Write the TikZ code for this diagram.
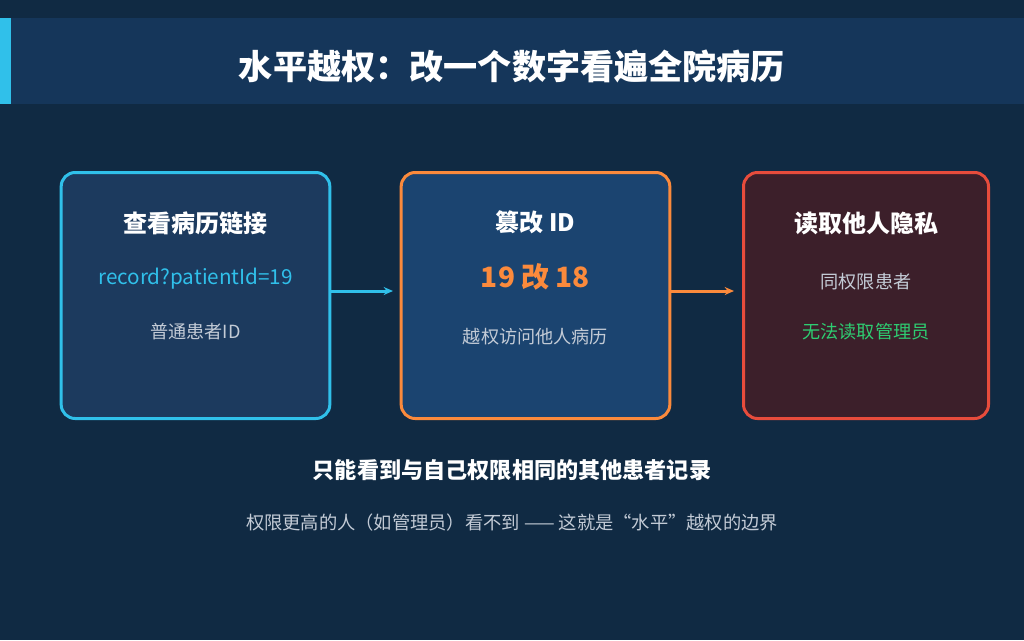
\documentclass[tikz,border=0pt]{standalone}
\usepackage{fontspec}
\setmainfont{Noto Sans CJK SC}
\usetikzlibrary{positioning, arrows.meta}
\definecolor{bgnavy}{HTML}{102A43}
\definecolor{barnavy}{HTML}{15365A}
\definecolor{cyanline}{HTML}{30C0EA}
\definecolor{orangeline}{HTML}{FB8A3C}
\definecolor{redline}{HTML}{E74C3C}
\definecolor{fillone}{HTML}{1C3A5E}
\definecolor{filltwo}{HTML}{1B4470}
\definecolor{fillthree}{HTML}{3C1F2A}
\definecolor{softgray}{HTML}{C3CBD6}
\definecolor{okgreen}{HTML}{2ECC71}
\tikzset{every picture/.style={line width=0.75pt}}

\begin{document}
\begin{tikzpicture}[x=0.75pt,y=-0.75pt,
    box/.style={rounded corners=10.5pt, line width=2.25pt, inner sep=0pt, minimum height=184.5pt},
    boxtitle/.style={text=white, font=\fontsize{18}{20}\selectfont\bfseries},
    boxtext/.style={text=softgray, font=\fontsize{13.6}{15}\selectfont},
    flow/.style={line width=2.25pt, -{Stealth[length=7pt,width=6pt]}}]
        % background and title bar
        \fill[bgnavy] (0,0) rectangle (1024,640);
        \fill[barnavy] (0,18) rectangle (1024,104);
        \fill[cyanline] (0,18) rectangle (11,104);
        \node[text=white, font=\fontsize{25.6}{28}\selectfont\bfseries] (title) at (512,66) {水平越权：改一个数字看遍全院病历};

        % the three steps
        \node[box, draw=cyanline, fill=fillone, minimum width=201.5pt] (view) at (195.5,295.5) {};
        \node[box, draw=orangeline, fill=filltwo, minimum width=201.5pt] (edit) at (535.5,295.5) {};
        \node[box, draw=redline, fill=fillthree, minimum width=183.75pt] (read) at (866,295.5) {};

        \node[boxtitle] (viewtitle) at (195.5,223) {查看病历链接};
        \node[text=cyanline, font=\fontsize{15.5}{17}\selectfont] (viewurl) at (195.5,279) {record?patientId=19};
        \node[boxtext] (viewnote) at (195.5,332) {普通患者ID};

        \node[boxtitle] (edittitle) at (535.5,222) {篡改 ID};
        \node[text=orangeline, font=\fontsize{21}{24}\selectfont\bfseries] (editnum) at (535.5,277) {19 改 18};
        \node[boxtext] (editnote) at (535.5,337) {越权访问他人病历};

        \node[boxtitle] (readtitle) at (866,223) {读取他人隐私};
        \node[boxtext] (readsame) at (866,282) {同权限患者};
        \node[text=okgreen, font=\fontsize{13.6}{15}\selectfont] (readno) at (866,332) {无法读取管理员};

        \coordinate (viewout) at (view.east |- 0,291);
        \coordinate (editin) at (393,291);
        \coordinate (editout) at (edit.east |- 0,291);
        \coordinate (readin) at (734,291);
        \draw[flow, cyanline] (viewout) -- (editin);
        \draw[flow, orangeline] (editout) -- (readin);

        % summary
        \node[text=white, font=\fontsize{16.6}{19}\selectfont\bfseries] (summary) at (512,470) {只能看到与自己权限相同的其他患者记录};
        \node[text=softgray, font=\fontsize{13.7}{16}\selectfont] (limit) at (512,523) {权限更高的人（如管理员）看不到 —— 这就是“水平”越权的边界};
    \end{tikzpicture}
\end{document}
